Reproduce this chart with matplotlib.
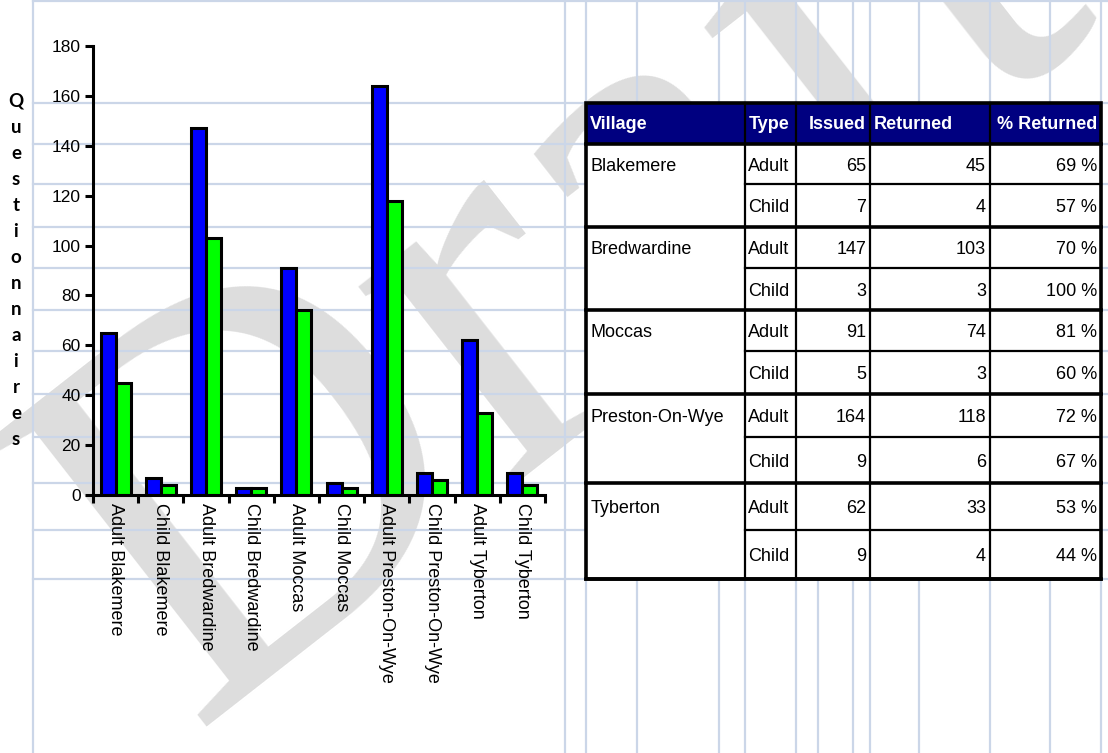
import matplotlib
matplotlib.use('Agg')
import matplotlib.pyplot as plt
import numpy as np
from matplotlib.patches import Rectangle

# Data
categories = ['Adult Blakemere', 'Child Blakemere', 'Adult Bredwardine', 'Child Bredwardine',
              'Adult Moccas', 'Child Moccas', 'Adult Preston-On-Wye', 'Child Preston-On-Wye',
              'Adult Tyberton', 'Child Tyberton']
issued = [65, 7, 147, 3, 91, 5, 164, 9, 62, 9]
returned = [45, 4, 103, 3, 74, 3, 118, 6, 33, 4]
villages = ['Blakemere', 'Bredwardine', 'Moccas', 'Preston-On-Wye', 'Tyberton']
types = ['Adult', 'Child']
pct_returned = [69, 57, 70, 100, 81, 60, 72, 67, 53, 44]
headers = ['Village', 'Type', 'Issued', 'Returned', '% Returned']

W, H = 1108, 753
GRID = '#cbd6e8'

fig = plt.figure(figsize=(W / 100, H / 100), dpi=100)

# background sheet in pixel coordinates
bg = fig.add_axes([0, 0, 1, 1])
bg.set_xlim(0, W)
bg.set_ylim(H, 0)
bg.axis('off')

# watermark
wm = bg.text(190, 726, 'Draft', rotation=38, rotation_mode='anchor', ha='left', va='baseline',
             fontsize=395, family='Liberation Serif', color='#dddddd', zorder=0)
wm.set_clip_on(True)

# spreadsheet grid
row_edges = [103, 144, 184, 227, 268, 310, 351, 394, 437, 483, 530, 579]
col_lines = [33, 565, 586, 637, 719, 745, 796, 818, 853, 870, 919, 990, 1050, 1101]
for y in [1] + row_edges:
    bg.plot([33, W], [y, y], color=GRID, lw=1.6, zorder=1)
for x in col_lines:
    bg.plot([x, x], [0, H], color=GRID, lw=1.6, zorder=1)

# y label, one letter per line
for i, ch in enumerate('Questionnaires'):
    bg.text(16, 101 + 26 * i, ch, ha='center', va='center', fontsize=13.5,
            fontweight='bold', family='Lato', color='black')

# bar chart
ax = fig.add_axes([93 / W, 1 - 495 / H, 452 / W, 449 / H])
ax.set_zorder(2)
ax.patch.set_alpha(0)
x = np.arange(len(categories))
bw = 0.33
ax.bar(x - bw / 2, issued, bw, color='#0000ff', edgecolor='black', linewidth=2.2)
ax.bar(x + bw / 2, returned, bw, color='#00ff00', edgecolor='black', linewidth=2.2)
ax.set_xlim(-0.5, len(categories) - 0.5)
ax.set_ylim(0, 180)
ax.set_yticks(range(0, 181, 20))
ax.set_xticks(x)
ax.set_xticklabels(categories, rotation=270, fontsize=13, family='Liberation Sans')
ax.set_xticks(np.arange(-0.5, len(categories)), minor=True)
for lab in ax.get_yticklabels():
    lab.set_family('Liberation Sans')
    lab.set_fontsize(12.5)
ax.tick_params(axis='x', which='major', length=0, pad=6)
ax.tick_params(axis='x', which='minor', length=6, width=2.2, direction='out')
ax.tick_params(axis='y', length=6, width=2.2, direction='out', pad=3)
for s in ['top', 'right']:
    ax.spines[s].set_visible(False)
for s in ['left', 'bottom']:
    ax.spines[s].set_linewidth(2.2)

# table
col_edges = [586, 745, 796, 870, 990, 1101]
fs = 13
bg.add_patch(Rectangle((col_edges[0], row_edges[0]), col_edges[-1] - col_edges[0],
                       row_edges[1] - row_edges[0], facecolor='#000080', edgecolor='none', zorder=3))
bg.add_patch(Rectangle((col_edges[0], row_edges[1]), col_edges[-1] - col_edges[0],
                       row_edges[-1] - row_edges[1], facecolor='white', edgecolor='none', zorder=3))

# header text
hy = (row_edges[0] + row_edges[1]) / 2 + 1
h_align = ['left', 'left', 'right', 'left', 'right']
for j, (h, a) in enumerate(zip(headers, h_align)):
    hx = col_edges[j] + 4 if a == 'left' else col_edges[j + 1] - 4
    bg.text(hx, hy, h, ha=a, va='center', color='white', fontsize=fs, fontweight='bold',
            family='Liberation Sans', zorder=5)

# body
for k in range(len(issued)):
    r0, r1 = row_edges[k + 1], row_edges[k + 2]
    cy = (r0 + r1) / 2 + 2
    if k % 2 == 0:
        bg.text(col_edges[0] + 5, cy, villages[k // 2], ha='left', va='center', fontsize=fs,
                family='Liberation Sans', zorder=5)
    bg.text(col_edges[1] + 3, cy, types[k % 2], ha='left', va='center', fontsize=fs,
            family='Liberation Sans', zorder=5)
    vals = [str(issued[k]), str(returned[k]), '%d %%' % pct_returned[k]]
    for j, v in enumerate(vals):
        bg.text(col_edges[j + 3] - 4, cy, v, ha='right', va='center', fontsize=fs,
                family='Liberation Sans', zorder=5)
    # lines below each row
    if k % 2 == 0:
        bg.plot([col_edges[1], col_edges[-1]], [r1, r1], color='black', lw=1.6, zorder=4)
    else:
        bg.plot([col_edges[0], col_edges[-1]], [r1, r1], color='black', lw=2.6, zorder=4)

# column separators
for cx in col_edges[1:-1]:
    bg.plot([cx, cx], [row_edges[0], row_edges[-1]], color='black', lw=1.6, zorder=4)
bg.plot([col_edges[0], col_edges[-1]], [row_edges[1], row_edges[1]], color='black', lw=2.6, zorder=4)
bg.add_patch(Rectangle((col_edges[0], row_edges[0]), col_edges[-1] - col_edges[0],
                       row_edges[-1] - row_edges[0], facecolor='none', edgecolor='black',
                       lw=2.6, zorder=4))

fig.savefig('out.png', dpi=100)
